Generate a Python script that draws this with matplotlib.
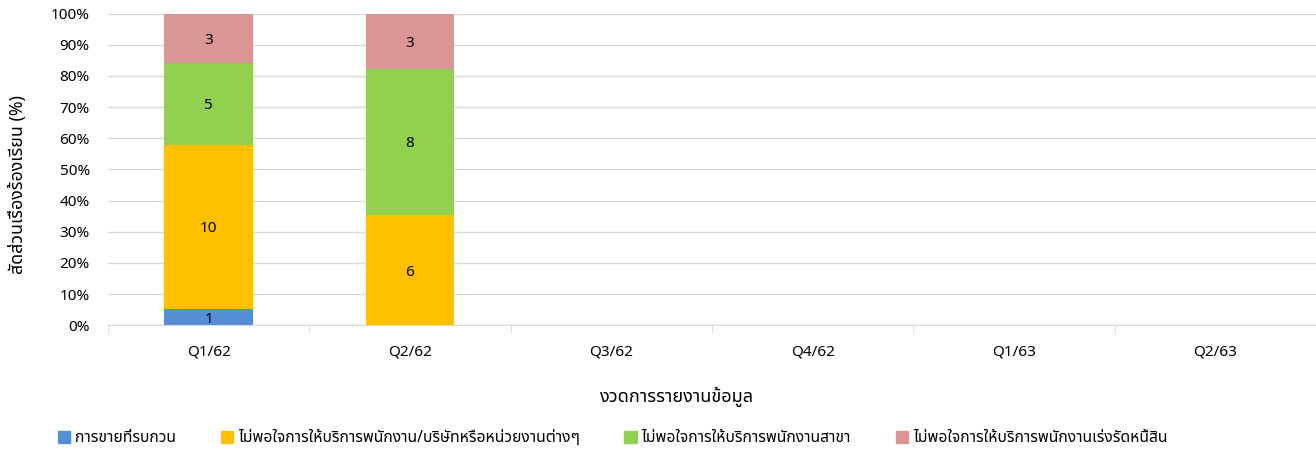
import numpy as np
import matplotlib
matplotlib.use('Agg')
import matplotlib.pyplot as plt
from matplotlib import font_manager
from matplotlib.ft2font import FT2Font
from matplotlib.patches import Patch

# ข้อมูล
quarters = ['Q1/62', 'Q2/62', 'Q3/62', 'Q4/62', 'Q1/63', 'Q2/63']
series_names = ['การขายที่รบกวน',
                'ไม่พอใจการให้บริการพนักงาน/บริษัทหรือหน่วยงานต่างๆ',
                'ไม่พอใจการให้บริการพนักงานสาขา',
                'ไม่พอใจการให้บริการพนักงานเร่งรัดหนี้สิน']
s_disturb = [1, 0, 0, 0, 0, 0]
s_staff_company = [10, 6, 0, 0, 0, 0]
s_branch = [5, 8, 0, 0, 0, 0]
s_collection = [3, 3, 0, 0, 0, 0]
colors = ['#558ed5', '#ffc000', '#92d050', '#d99694']

# หาฟอนต์ที่มีอักษรไทย
def find_thai_font():
    prefer = ['Tahoma', 'Noto Sans Thai', 'Loma', 'Garuda', 'Sarabun', 'Kinnari', 'Norasi']
    found = {}
    for path in font_manager.findSystemFonts():
        try:
            f = FT2Font(path)
            if f.get_char_index(0x0E01) and f.get_char_index(0x0E32):
                found.setdefault(f.family_name, path)
        except Exception:
            pass
    for p in prefer:
        if p in found:
            return p, found[p]
    if found:
        name = sorted(found)[0]
        return name, found[name]
    return None, None

thai_name, thai_path = find_thai_font()
if thai_path:
    font_manager.fontManager.addfont(thai_path)
    plt.rcParams['font.family'] = [thai_name, 'DejaVu Sans']
else:
    plt.rcParams['font.family'] = ['DejaVu Sans']

data = np.array([s_disturb, s_staff_company, s_branch, s_collection], dtype=float)
totals = data.sum(axis=0)
pct = np.divide(data, totals, out=np.zeros_like(data), where=totals > 0) * 100

fig = plt.figure(figsize=(13.16, 4.55), dpi=100)
ax = fig.add_axes([0.082, 0.285, 0.918, 0.685])

x = np.arange(len(quarters))
bottom = np.zeros(len(quarters))
for i in range(4):
    ax.bar(x, pct[i], 0.44, bottom=bottom, color=colors[i], zorder=3)
    for j in range(len(quarters)):
        if data[i, j] > 0:
            ax.text(x[j], bottom[j] + pct[i, j] / 2, '%d' % data[i, j],
                    ha='center', va='center_baseline', fontsize=11, color='#000000', zorder=4)
    bottom += pct[i]

ax.set_xlim(-0.5, len(quarters) - 0.5)
ax.set_ylim(0, 100)
ax.set_yticks(np.arange(0, 101, 10))
ax.set_yticklabels(['%d%%' % v for v in range(0, 101, 10)], fontsize=11)
ax.set_xticks(x)
ax.set_xticklabels(quarters, fontsize=11)
ax.set_xticks(np.arange(-0.5, len(quarters), 1), minor=True)
ax.tick_params(axis='x', which='major', length=0, pad=14)
ax.tick_params(axis='x', which='minor', length=6, color='#d9d9d9')
ax.tick_params(axis='y', length=0, pad=13)
ax.yaxis.grid(True, color='#d9d9d9', linewidth=1, zorder=0)
for s in ['top', 'right', 'left']:
    ax.spines[s].set_visible(False)
ax.spines['bottom'].set_color('#d9d9d9')
ax.spines['bottom'].set_zorder(5)

fig.text(18 / 1316, 1 - 185 / 455, 'สัดส่วนเรื่องร้องเรียน (%)', fontsize=12.8,
         rotation=90, ha='center', va='center')
fig.text(677 / 1316, 1 - 397 / 455, 'งวดการรายงานข้อมูล', fontsize=13,
         ha='center', va='center')

handles = [Patch(color=c) for c in colors]
fig.legend(handles, series_names, loc='lower left', bbox_to_anchor=(0.033, -0.012),
           ncol=4, frameon=False, fontsize=11.3, handlelength=0.8, handleheight=0.8,
           handletextpad=0.3, columnspacing=2.85)

plt.savefig('out.png', dpi=100)
